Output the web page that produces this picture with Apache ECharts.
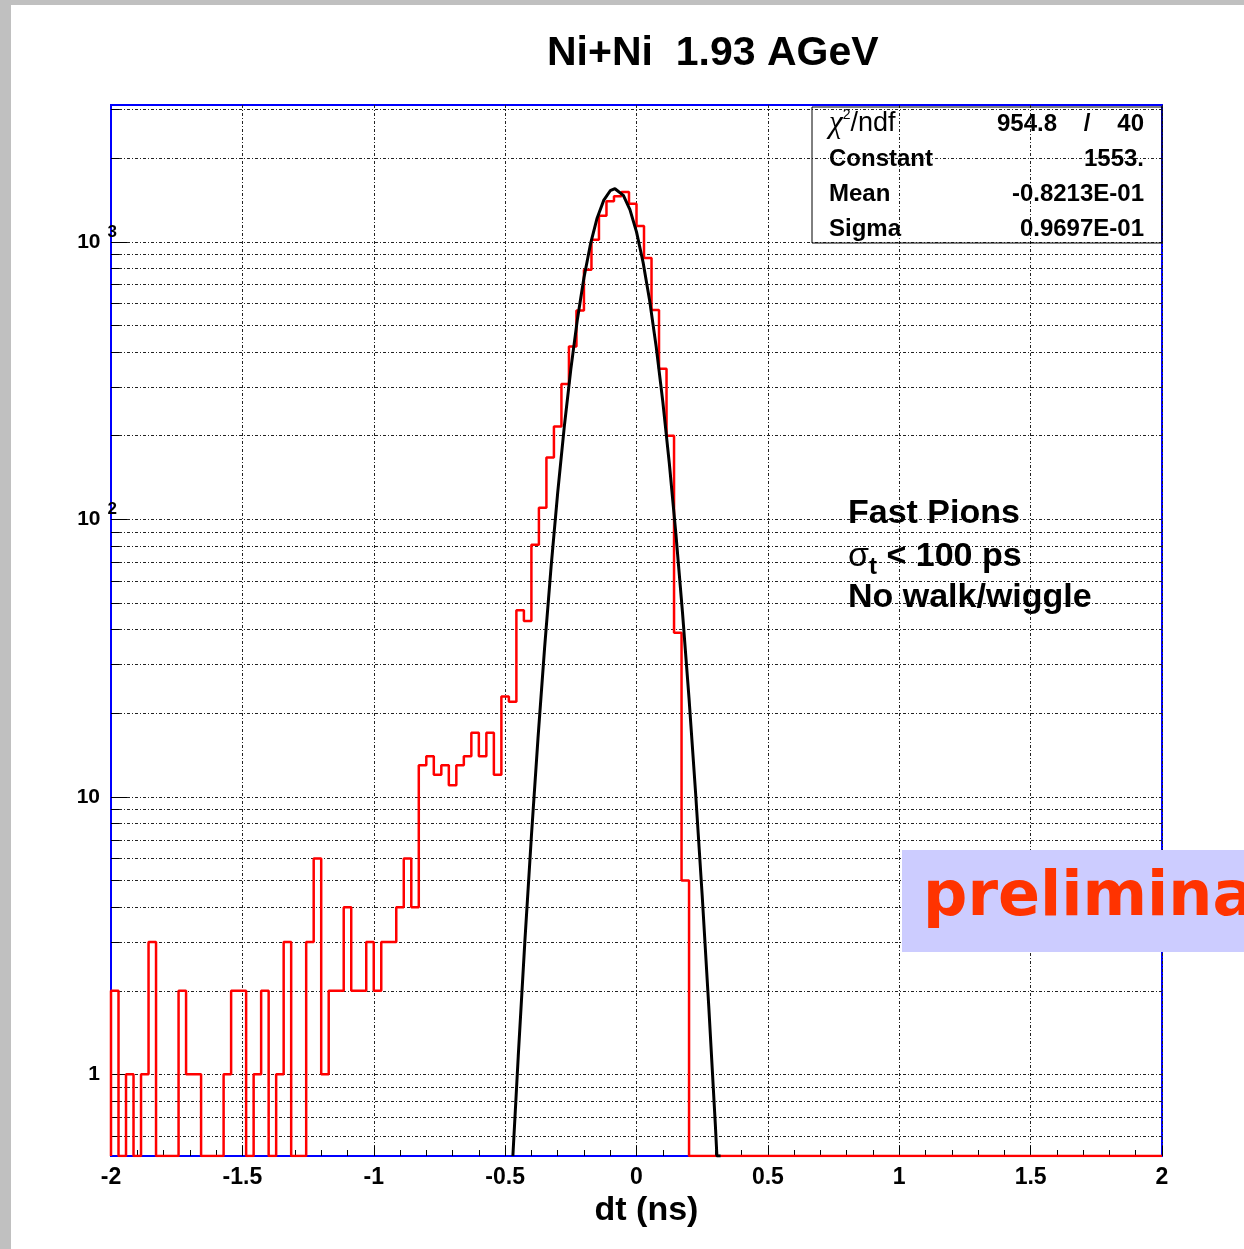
<!DOCTYPE html>
<html>
<head>
<meta charset="utf-8">
<script src="https://cdn.jsdelivr.net/npm/echarts@6/dist/echarts.min.js"></script>
<style>
html,body{margin:0;padding:0;background:#c0c0c0;width:1244px;height:1249px;overflow:hidden;}
#chart{position:absolute;left:11px;top:5px;width:1233px;height:1244px;background:#fff;}
</style>
</head>
<body>
<div id="chart"></div>
<script>
// ---------- data ----------
const titleText = 'Ni+Ni  1.93 AGeV';
const xAxisTitle = 'dt (ns)';
const X_MIN = -2, X_MAX = 2, X_STEP = 0.5;
const Y_MIN = 0.508, Y_MAX = 3110;

// histogram counts, 140 bins from -2 to 2 (bin width 4/140 ns)
const countsTail = [2,0,1,0,1,3,0,0,0,2,1,1,0,0,0,1,2,2,0,1,2,0,1,3,0,0,3,6,1,2,2,4,2,2,3,2,3,3,4,6,4];
const countsShoulder = [13,14,12,13,11,13,14,17,14,17,12,23,22];
const countsPeak = [47,43,81,110,167,216,307,419,565,793,1016,1240,1400,1460,1510,1370,1140,874,568,349,200,39,5];
const countsRight = [0,0,0,0,0,0,0,0,0,0, 0,0,0,0,0,0,0,0,0,0, 0,0,0,0,0,0,0,0,0,0,
                     0,0,0,0,0,0,0,0,0,0, 0,0,0,0,0,0,0,0,0,0, 0,0,0,0,0,0,0,0,0,0, 0,0,0];

const fitX = [-0.4705,-0.45,-0.425,-0.4,-0.375,-0.35,-0.325,-0.3,-0.275,-0.25,-0.225,-0.2,-0.175,-0.15,-0.125,-0.1,-0.082,-0.075,-0.05,-0.025,0,0.025,0.05,0.075,0.1,0.125,0.15,0.175,0.2,0.225,0.25,0.275,0.3,0.306,0.32];
const fitY = [0.508,1.165,3.0,7.21,16.2,34.2,67.5,124.5,214.9,347,525,742,982,1216,1409,1527,1553,1549,1470,1306,1085,844,614,418,266,158.6,88.5,46.2,22.6,10.3,4.41,1.76,0.66,0.508,0.508];

// y axis ticks
const yMajor = [1, 10, 100, 1000];
const yMajorBase = ['1', '10', '10', '10'];
const yMajorExp = ['', '', '2', '3'];
const yMinor = [0.6,0.7,0.8,0.9, 2,3,4,5,6,7,8,9, 20,30,40,50,60,70,80,90, 200,300,400,500,600,700,800,900, 2000,3000];

// stats box
const statNames = ['Constant', 'Mean', 'Sigma'];
const statValues = ['1553.', '-0.8213E-01', '0.9697E-01'];
const chi2Value = '954.8';
const ndfValue = '40';

// annotation
const noteLines = ['Fast Pions', 'No walk/wiggle'];
const sigmaLine = ['σ', 't', ' < 100 ps'];
const stampText = 'preliminary';

// ---------- build ----------
const counts = countsTail.concat(countsShoulder, countsPeak, countsRight);
const binW = (X_MAX - X_MIN) / counts.length;
const histData = [[X_MIN, Y_MIN]];
counts.forEach((c, k) => {
  const v = c > 0 ? c : Y_MIN;
  histData.push([X_MIN + k * binW, v], [X_MIN + (k + 1) * binW, v]);
});
histData.push([X_MAX, Y_MIN]);
const fitData = fitX.map((x, i) => [x, Math.max(fitY[i], Y_MIN)]);

const FONT = '"Liberation Sans", Arial, Helvetica, sans-serif';
const gridStyle = { color: '#222', width: 1, type: [3, 2, 1, 2] };

const chart = echarts.init(document.getElementById('chart'), null, { renderer: 'canvas' });

function yLabel(v) {
  const i = yMajor.findIndex(m => Math.abs(m - v) / m < 1e-6);
  if (i < 0) return '';
  return '{b|' + yMajorBase[i] + '}' + (yMajorExp[i] ? '{s|' + yMajorExp[i] + '}' : '{e| }');
}

const statsLeft = 818, statsRight = 1133, rowY0 = 119, rowDy = 35;
const SF = 'bold 24px ' + FONT;
const graphics = [
  { type: 'rect', z: 40, shape: { x: 801, y: 102, width: 350, height: 136 },
    style: { fill: 'none', stroke: '#000', lineWidth: 1 } },
  { type: 'text', z: 41, x: statsLeft, y: rowY0,
    style: { text: '{c|χ}{p|2}{n|/ndf}', verticalAlign: 'middle', textVerticalAlign: 'middle', fill: '#000',
      rich: {
        c: { fontFamily: '"Liberation Serif", serif', fontStyle: 'italic', fontSize: 31, lineHeight: 32, fill: '#000' },
        p: { fontFamily: FONT, fontSize: 14, lineHeight: 15, verticalAlign: 'top', fill: '#000' },
        n: { fontFamily: FONT, fontSize: 27, lineHeight: 32, fill: '#000' }
      } } },
  { type: 'text', z: 41, x: 1057, y: rowY0,
    style: { text: chi2Value, font: SF, fill: '#000', align: 'right', textAlign: 'right', verticalAlign: 'middle', textVerticalAlign: 'middle' } },
  { type: 'text', z: 41, x: 1087, y: rowY0,
    style: { text: '/', font: SF, fill: '#000', align: 'center', textAlign: 'center', verticalAlign: 'middle', textVerticalAlign: 'middle' } },
  { type: 'text', z: 41, x: statsRight, y: rowY0,
    style: { text: ndfValue, font: SF, fill: '#000', align: 'right', textAlign: 'right', verticalAlign: 'middle', textVerticalAlign: 'middle' } }
];
graphics[2].x = 1046; graphics[3].x = 1076;
statNames.forEach((n, i) => {
  const y = rowY0 + (i + 1) * rowDy;
  graphics.push(
    { type: 'text', z: 41, x: statsLeft, y: y,
      style: { text: n, font: SF, fill: '#000', verticalAlign: 'middle', textVerticalAlign: 'middle' } },
    { type: 'text', z: 41, x: statsRight, y: y,
      style: { text: statValues[i], font: SF, fill: '#000', align: 'right', textAlign: 'right', verticalAlign: 'middle', textVerticalAlign: 'middle' } }
  );
});
graphics.push(
  { type: 'text', z: 41, x: 837, y: 509,
    style: { text: noteLines[0], font: 'bold 34px ' + FONT, fill: '#000', verticalAlign: 'middle', textVerticalAlign: 'middle' } },
  { type: 'text', z: 41, x: 837, y: 552,
    style: { text: '{a|' + sigmaLine[0] + '}{sub|' + sigmaLine[1] + '}{b|' + sigmaLine[2] + '}', verticalAlign: 'middle', textVerticalAlign: 'middle', fill: '#000',
      rich: {
        a: { fontFamily: FONT, fontSize: 34, lineHeight: 44, fill: '#000' },
        sub: { fontFamily: FONT, fontWeight: 'bold', fontSize: 24, lineHeight: 24, verticalAlign: 'bottom', fill: '#000' },
        b: { fontFamily: FONT, fontWeight: 'bold', fontSize: 34, lineHeight: 44, fill: '#000' }
      } } },
  { type: 'text', z: 41, x: 837, y: 593,
    style: { text: noteLines[1], font: 'bold 34px ' + FONT, fill: '#000', verticalAlign: 'middle', textVerticalAlign: 'middle' } },
  { type: 'rect', z: 60, shape: { x: 891, y: 845, width: 400, height: 102 },
    style: { fill: '#ccccff' } },
  { type: 'text', z: 61, x: 912, y: 894,
    style: { text: stampText, font: 'bold 62px "DejaVu Sans", sans-serif', fill: '#ff3300', verticalAlign: 'middle', textVerticalAlign: 'middle' } }
);

const option = {
  animation: false,
  backgroundColor: '#ffffff',
  title: {
    text: titleText, left: 531, top: 23,
    textStyle: { fontFamily: FONT, fontWeight: 'bold', fontSize: 41, color: '#000' }
  },
  grid: { left: 100, top: 100, right: 82, bottom: 93, show: true,
    borderColor: '#0000ff', borderWidth: 2, backgroundColor: 'rgba(0,0,0,0)' },
  xAxis: {
    type: 'value', min: X_MIN, max: X_MAX, interval: X_STEP,
    axisLine: { show: true, onZero: false, lineStyle: { color: '#0000ff', width: 2 } },
    axisTick: { show: true, inside: true, length: 10, lineStyle: { color: '#000', width: 1 } },
    minorTick: { show: true, splitNumber: 5, length: 6, lineStyle: { color: '#000', width: 1 } },
    splitLine: { show: true, lineStyle: gridStyle },
    axisLabel: { fontFamily: FONT, fontWeight: 'bold', fontSize: 23, color: '#000', margin: 10 },
    name: xAxisTitle, nameLocation: 'middle', nameGap: 37,
    nameTextStyle: { fontFamily: FONT, fontWeight: 'bold', fontSize: 34, color: '#000', padding: [0, 0, 0, 20] }
  },
  yAxis: [
    {
      type: 'log', logBase: 10, min: Y_MIN, max: Y_MAX,
      axisLine: { show: true, onZero: false, lineStyle: { color: '#0000ff', width: 2 } },
      axisTick: { show: true, inside: true, length: 16, customValues: yMajor, lineStyle: { color: '#000', width: 1 } },
      splitLine: { show: true, lineStyle: gridStyle },
      axisLabel: {
        customValues: yMajor, margin: -6, formatter: yLabel,
        rich: {
          b: { fontFamily: FONT, fontWeight: 'bold', fontSize: 21, lineHeight: 36, color: '#000' },
          s: { fontFamily: FONT, fontWeight: 'bold', fontSize: 17, lineHeight: 17, verticalAlign: 'top', color: '#000', padding: [0, 0, 0, 7] },
          e: { fontFamily: FONT, fontSize: 17, lineHeight: 17, width: 17 }
        }
      }
    },
    {
      type: 'log', logBase: 10, min: Y_MIN, max: Y_MAX, position: 'left',
      axisLine: { show: false, onZero: false },
      axisTick: { show: true, inside: true, length: 8, customValues: yMinor, lineStyle: { color: '#000', width: 1 } },
      axisLabel: { show: false },
      splitLine: { show: true, lineStyle: gridStyle }
    }
  ],
  series: [
    {
      name: 'dt', type: 'line', data: histData, yAxisIndex: 0,
      showSymbol: false, symbol: 'none', smooth: false,
      lineStyle: { color: '#ff0000', width: 2.5 }, z: 3
    },
    {
      name: 'gaus fit', type: 'line', data: fitData, yAxisIndex: 0,
      showSymbol: false, symbol: 'none', smooth: false,
      lineStyle: { color: '#000000', width: 3 }, z: 4
    }
  ],
  graphic: { elements: graphics }
};
chart.setOption(option);
</script>
</body>
</html>
